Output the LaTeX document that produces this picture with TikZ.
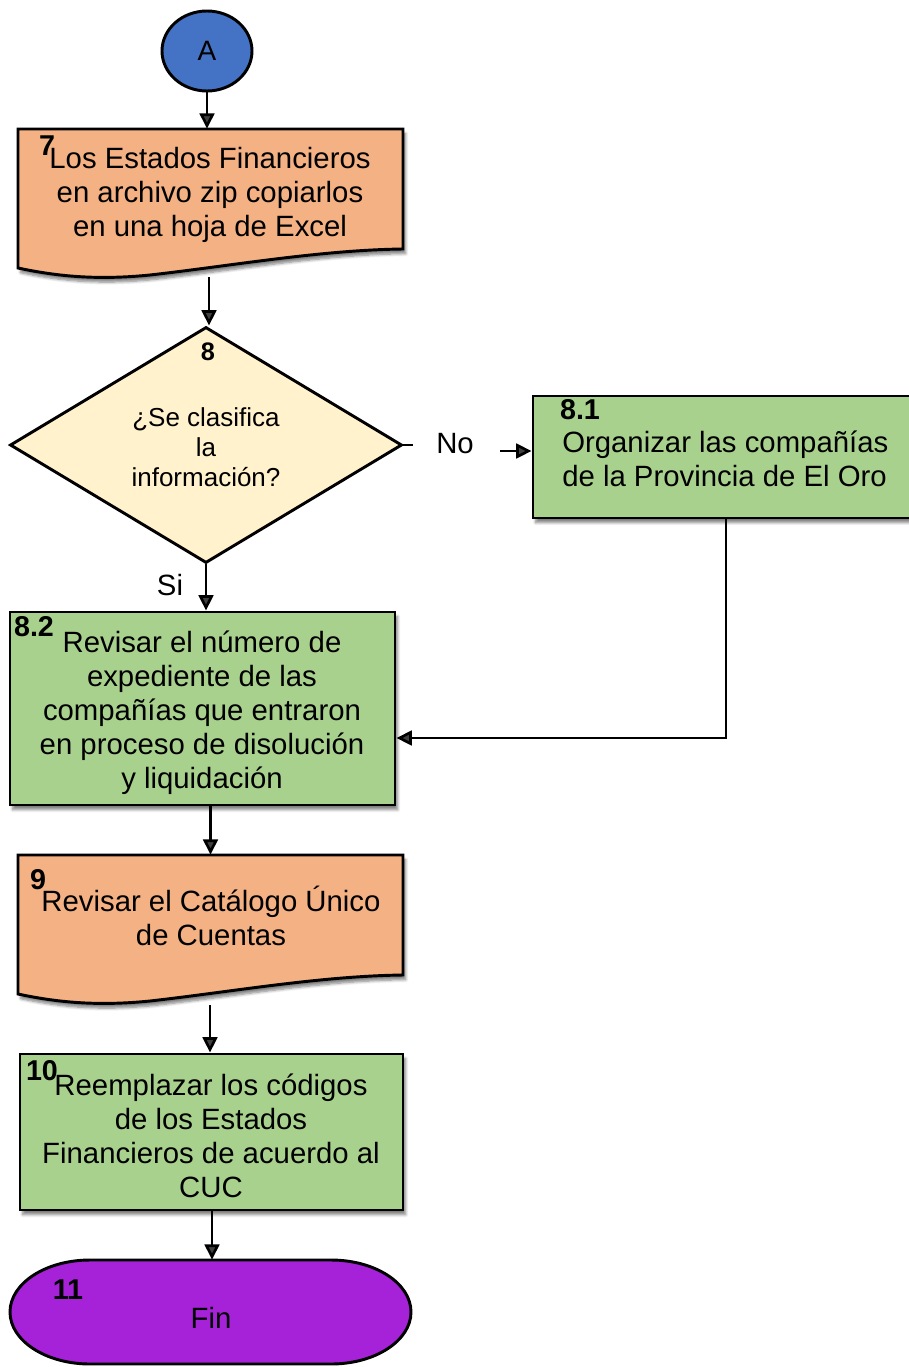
\documentclass[tikz,border=0pt]{standalone}
\usepackage{fontspec}
\setmainfont{Liberation Sans}
\usetikzlibrary{shapes.geometric,arrows.meta,shadows.blur}
\definecolor{cblue}{HTML}{4472C4}
\definecolor{corange}{HTML}{F4B183}
\definecolor{cgreen}{HTML}{A9D18E}
\definecolor{cyellow}{HTML}{FFF2CC}
\definecolor{cpurple}{HTML}{A522D8}
\tikzset{
  arr/.style={line width=2pt,-{Triangle[length=11.5pt,width=11pt]}},
  conn/.style={line width=2pt},
  frame/.style={draw=none,rectangle,inner sep=0pt},
  shbox/.style={draw,line width=2.2pt,rectangle,inner sep=0pt,
    blur shadow={shadow xshift=2pt,shadow yshift=-3.5pt,shadow blur steps=6,shadow opacity=50}},
  shpath/.style={draw,line width=2.2pt,
    blur shadow={shadow xshift=2pt,shadow yshift=-3.5pt,shadow blur steps=6,shadow opacity=50}},
  txt/.style={inner sep=0pt,align=center,font=\fontsize{22}{25.5}\selectfont},
  num/.style={inner sep=0pt,font=\fontsize{21.5}{23}\selectfont\bfseries},
}
\begin{document}
\begin{tikzpicture}[x=0.75pt,y=-0.75pt]
\useasboundingbox (0,0) rectangle (909,1367);

% A connector
\node[ellipse,draw,line width=2.2pt,fill=cblue,minimum width=67.5pt,minimum height=60pt,inner sep=0pt,
  font=\fontsize{21}{24}\selectfont] (A) at (207,51) {A};

% document 7
\path[shpath,fill=corange] (18,129) -- (403,129) -- (403,249) .. controls (320,250) and (230,266) .. (150,275)
  .. controls (100,280) and (60,277) .. (18,268) -- cycle;
\node[frame,minimum width=288.75pt,minimum height=111pt] (d7) at (210.5,203) {};
\node[num] (n7) at (47,146) {7};
\node[txt] (t7) at (210,195) {Los Estados Financieros\\en archivo zip copiarlos\\en una hoja de Excel};

% decision 8
\node[diamond,draw,line width=2.2pt,fill=cyellow,minimum width=294pt,minimum height=177pt,inner sep=0pt] (dia) at (206,445) {};
\node[inner sep=0pt,font=\fontsize{19}{20}\selectfont\bfseries] (n8) at (208,352) {8};
\node[inner sep=0pt,align=center,font=\fontsize{19.5}{22.5}\selectfont] (t8) at (206,447) {¿Se clasifica\\la\\información?};

% box 8.1
\node[shbox,fill=cgreen,minimum width=286.5pt,minimum height=91.5pt] (b81) at (724,457) {};
\node[num,anchor=center] (n81) at (580,410) {8.1};
\node[txt,align=left,anchor=west] (t81) at (562,459) {Organizar las compañías\\de la Provincia de El Oro};

% box 8.2
\node[shbox,fill=cgreen,minimum width=288.75pt,minimum height=144.75pt] (b82) at (202.5,708.5) {};
\node[num] (n82) at (34,627) {8.2};
\node[txt] (t82) at (202,713) {Revisar el número de\\expediente de las\\compañías que entraron\\en proceso de disolución\\y liquidación};

% document 9
\path[shpath,fill=corange] (18,855) -- (403,855) -- (403,975) .. controls (320,976) and (230,992) .. (150,1001)
  .. controls (100,1006) and (60,1003) .. (18,994) -- cycle;
\node[frame,minimum width=288.75pt,minimum height=111pt] (d9) at (210.5,929) {};
\node[num] (n9) at (38,880) {9};
\node[txt] (t9) at (211,916) {Revisar el Catálogo Único\\de Cuentas};

% box 10
\node[shbox,fill=cgreen,minimum width=287.25pt,minimum height=117pt] (b10) at (211.5,1132) {};
\node[num] (n10) at (42,1071) {10};
\node[txt] (t10) at (211,1136) {Reemplazar los códigos\\de los Estados\\Financieros de acuerdo al\\CUC};

% terminator 11
\path[draw,line width=2.2pt,fill=cpurple] (90,1260) -- (331,1260) .. controls (375.2,1260) and (411,1283.3) .. (411,1312)
  .. controls (411,1340.7) and (375.2,1364) .. (331,1364) -- (90,1364)
  .. controls (45.8,1364) and (10,1340.7) .. (10,1312) .. controls (10,1283.3) and (45.8,1260) .. (90,1260) -- cycle;
\node[frame,minimum width=300.75pt,minimum height=78pt] (fin) at (210.5,1312) {};
\node[num] (n11) at (68,1290) {11};
\node[txt] (t11) at (211,1318) {Fin};

% labels
\node[txt] (no) at (455,444) {No};
\node[txt] (si) at (170,585) {Si};

% connectors
\draw[arr] (A.south) -- (A.south |- d7.north);
\coordinate (d7b) at (209,277);
\draw[arr] (d7b) -- (d7b |- dia.north);
\draw[conn] (dia.east) -- ++(10,0);
\coordinate (noarr) at (500,451);
\draw[arr] (noarr) -- (noarr -| b81.west);
\draw[arr] (dia.south) -- (dia.south |- b82.north);
\coordinate (turn) at (726,738);
\draw[arr] (b81.south -| turn) -- (turn) -- (turn -| b82.east);
\draw[arr] (b82.south -| d9.north) -- (d9.north);
\coordinate (d9b) at (210,1005);
\draw[arr] (d9b) -- (d9b |- b10.north);
\coordinate (b10b) at (212,1210.5);
\draw[arr] (b10b) -- (b10b |- fin.north);
\end{tikzpicture}
\end{document}
